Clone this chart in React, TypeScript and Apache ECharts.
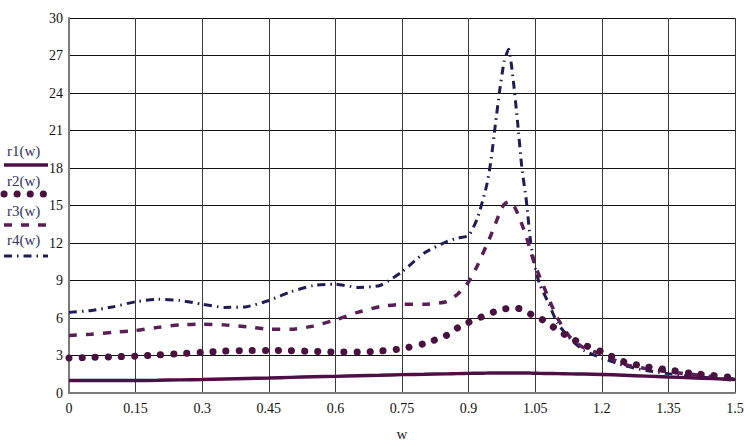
import React, { useEffect, useRef } from "react";
import * as echarts from "echarts";

const wValues = [0, 0.05, 0.1, 0.15, 0.2, 0.25, 0.3, 0.35, 0.4, 0.45, 0.5, 0.55, 0.6, 0.65, 0.7, 0.75, 0.8, 0.85, 0.875, 0.9, 0.92, 0.94, 0.95, 0.96, 0.97, 0.98, 0.99, 1.0, 1.01, 1.02, 1.03, 1.04, 1.05, 1.06, 1.08, 1.1, 1.13, 1.16, 1.2, 1.25, 1.3, 1.35, 1.4, 1.45, 1.5];
const r1 = [1.0, 1.0, 1.0, 1.0, 1.02, 1.05, 1.08, 1.12, 1.16, 1.2, 1.25, 1.3, 1.33, 1.38, 1.42, 1.47, 1.5, 1.53, 1.55, 1.57, 1.58, 1.59, 1.6, 1.6, 1.6, 1.6, 1.6, 1.6, 1.6, 1.6, 1.6, 1.59, 1.58, 1.57, 1.56, 1.55, 1.53, 1.52, 1.48, 1.42, 1.35, 1.28, 1.22, 1.15, 1.08];
const r2 = [2.8, 2.85, 2.9, 2.95, 3.05, 3.15, 3.25, 3.35, 3.4, 3.4, 3.38, 3.33, 3.28, 3.27, 3.35, 3.55, 3.95, 4.6, 5.2, 5.65, 5.95, 6.25, 6.4, 6.52, 6.62, 6.72, 6.78, 6.8, 6.78, 6.7, 6.5, 6.3, 6.15, 6.0, 5.55, 5.05, 4.4, 3.85, 3.3, 2.5, 2.1, 1.85, 1.58, 1.4, 1.22];
const r3 = [4.6, 4.7, 4.85, 5.0, 5.25, 5.45, 5.5, 5.45, 5.3, 5.1, 5.1, 5.35, 5.85, 6.45, 6.9, 7.1, 7.1, 7.3, 7.9, 8.9, 10.2, 11.8, 12.6, 13.5, 14.4, 15.1, 15.3, 15.1, 14.4, 13.5, 12.5, 11.3, 10.2, 9.3, 7.6, 6.0, 4.4, 3.6, 3.1, 2.3, 1.95, 1.7, 1.5, 1.3, 1.1];
const r4 = [6.45, 6.6, 6.9, 7.3, 7.5, 7.4, 7.1, 6.85, 6.9, 7.4, 8.1, 8.6, 8.7, 8.45, 8.6, 9.7, 11.2, 12.1, 12.4, 12.6, 14.0, 16.5, 18.5, 21.4, 24.2, 26.5, 27.5, 25.2, 21.8, 18.0, 15.4, 12.0, 10.0, 8.7, 7.2, 5.6, 4.3, 3.4, 2.8, 2.2, 1.8, 1.55, 1.35, 1.2, 1.0];
const seriesNames = ["r1(w)", "r2(w)", "r3(w)", "r4(w)"];
const seriesColors = ["#4e0f47", "#4a1040", "#5a1f55", "#1e1e55"];

const FONT = "'Liberation Serif', 'Times New Roman', serif";

function pairs(ys: number[]) {
  return wValues.map((w, i) => [w, ys[i]]);
}

export default function App() {
  const ref = useRef<HTMLDivElement>(null);
  useEffect(() => {
    if (!ref.current) return;
    const chart = echarts.init(ref.current, null, { renderer: "svg" });
    const legendY = [152, 182, 212, 241];
    const sampleY = [165, 194, 225, 256];
    const dashes: any[] = [null, [0.1, 13], [8, 9], [8, 5, 1.5, 5]];
    const widths = [3.5, 7, 3.5, 3];
    const graphics: any[] = [];
    seriesNames.forEach((n, i) => {
      graphics.push({
        type: "text",
        left: 7,
        top: legendY[i] - 9,
        style: { text: n, font: `15px ${FONT}`, fill: "#333366" },
      });
      graphics.push({
        type: "line",
        shape: { x1: 4, y1: sampleY[i], x2: 48, y2: sampleY[i] },
        style: {
          stroke: seriesColors[i],
          lineWidth: widths[i],
          lineDash: dashes[i] || undefined,
          lineCap: i === 1 ? "round" : "butt",
        },
      });
    });
    const fmt = (v: number) => {
      const s = (Math.round(v * 100) / 100).toString();
      return s;
    };
    chart.setOption({
      animation: false,
      backgroundColor: "#ffffff",
      grid: { left: 69, right: 15, top: 18, bottom: 54, containLabel: false },
      graphic: graphics,
      xAxis: {
        type: "value",
        min: 0,
        max: 1.5,
        interval: 0.15,
        name: "w",
        nameLocation: "middle",
        nameGap: 33,
        nameTextStyle: { fontFamily: FONT, fontSize: 15, color: "#222" },
        axisLine: { show: true, lineStyle: { color: "#7a7a7a", width: 2 } },
        axisTick: { show: false },
        axisLabel: { formatter: fmt, fontFamily: FONT, fontSize: 14, color: "#111", margin: 8 },
        splitLine: { show: true, lineStyle: { color: "#3a3a3a", width: 1 } },
      },
      yAxis: {
        type: "value",
        min: 0,
        max: 30,
        interval: 3,
        axisLine: { show: true, lineStyle: { color: "#7a7a7a", width: 2 } },
        axisTick: { show: false },
        axisLabel: { fontFamily: FONT, fontSize: 14, color: "#111", margin: 6 },
        splitLine: { show: true, lineStyle: { color: "#111", width: 1 } },
      },
      series: [r1, r2, r3, r4].map((d, i) => ({
        type: "line",
        name: seriesNames[i],
        data: pairs(d),
        showSymbol: false,
        smooth: 0.2,
        z: 10 - i,
        lineStyle: {
          color: seriesColors[i],
          width: widths[i],
          type: dashes[i] || "solid",
          cap: i === 1 ? "round" : "butt",
        },
      })),
    });
    return () => chart.dispose();
  }, []);
  return (
    <div
      ref={ref}
      style={{ position: "fixed", left: 0, top: 0, width: 750, height: 447, background: "#fff" }}
    />
  );
}
